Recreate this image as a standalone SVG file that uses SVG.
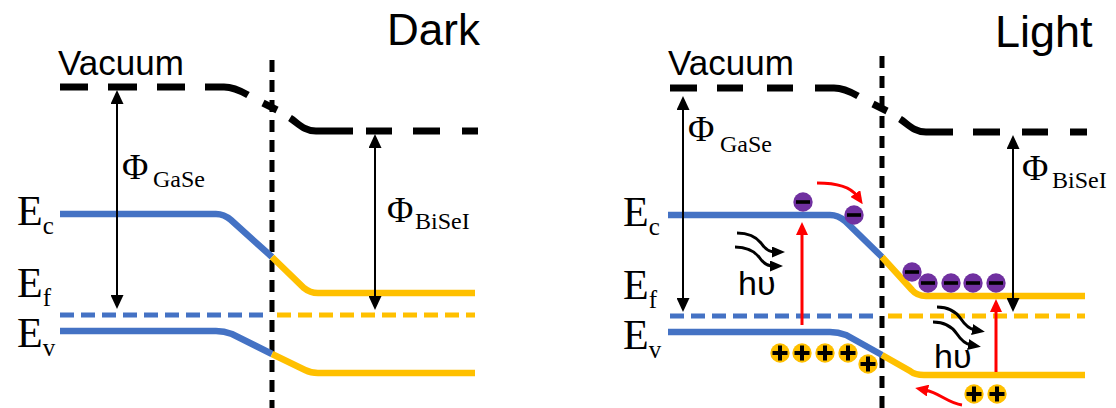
<svg xmlns="http://www.w3.org/2000/svg" width="1116" height="408" viewBox="0 0 1116 408">
<style>
.sans{font-family:"Liberation Sans",Arial,sans-serif;fill:#000}
.serif{font-family:"Liberation Serif","Times New Roman",serif;fill:#000}
.vac{fill:none;stroke:#000;stroke-width:7}
.div{fill:none;stroke:#000;stroke-width:5;stroke-dasharray:12 8}
.blue{fill:none;stroke:#4472C4;stroke-width:6.5}
.yel{fill:none;stroke:#FFC000;stroke-width:6.5}
.bdash{fill:none;stroke:#4472C4;stroke-width:5;stroke-dasharray:14 7}
.ydash{fill:none;stroke:#FFC000;stroke-width:5;stroke-dasharray:14 7}
.phi{fill:none;stroke:#000;stroke-width:2;marker-start:url(#ab);marker-end:url(#ab)}
.red{fill:none;stroke:#FF0000;stroke-width:3;marker-end:url(#ar)}
.wave{fill:none;stroke:#000;stroke-width:3;marker-end:url(#aw)}
.el{fill:#7030A0}
.ho{fill:#FFC000}
.sign{fill:#000}
</style>
<defs>
<marker id="ab" viewBox="0 0 14 13" refX="4" refY="6.5" markerWidth="14" markerHeight="13" markerUnits="userSpaceOnUse" orient="auto-start-reverse"><path d="M0,0 L14,6.5 L0,13 z" fill="#000"/></marker>
<marker id="ar" viewBox="0 0 13 12" refX="3" refY="6" markerWidth="13" markerHeight="12" markerUnits="userSpaceOnUse" orient="auto"><path d="M0,0 L13,6 L0,12 z" fill="#FF0000"/></marker>
<marker id="aw" viewBox="0 0 13 11" refX="3" refY="5.5" markerWidth="13" markerHeight="11" markerUnits="userSpaceOnUse" orient="auto"><path d="M0,0 L13,5.5 L0,11 z" fill="#000"/></marker>
<g id="electron"><circle r="9.7" class="el"/><rect x="-7" y="-1.8" width="14" height="3.6" class="sign"/></g>
<g id="hole"><circle r="9.7" class="ho"/><rect x="-7.5" y="-2" width="15" height="4" class="sign"/><rect x="-2" y="-7.5" width="4" height="15" class="sign"/></g>
</defs>
<rect width="1116" height="408" fill="#fff"/>

<!-- Left panel: Dark -->
<g id="dark-title"><text class="sans" x="387" y="45" font-size="44">Dark</text></g>
<g id="dark-vacuum">
<text class="sans" x="58" y="75" font-size="35">Vacuum</text>
<path class="vac" d="M60,87 H88 M108,87 H137 M157,87 H185 M205,87 H224 Q234,87 248,95 M263,103 L277,110 M290,118 C298,123 304,131 316,131 H353 M366,131 H392 M413,131 H440 M462,131 H478"/>
</g>
<g id="dark-divider"><line class="div" x1="272" y1="60" x2="272" y2="408"/></g>
<g id="dark-bands">
<path class="blue" d="M60,214 H216 Q224,214 231,220 L272,257"/>
<path class="yel" d="M272,257 L304,288 Q310,293 318,293 H475"/>
<path class="bdash" d="M60,315 H270"/>
<path class="ydash" d="M277,315 H475"/>
<path class="blue" d="M60,331 H216 Q224,331 232,334 L272,354"/>
<path class="yel" d="M272,354 L305,370 Q311,373 318,373 H475"/>
</g>
<g id="dark-labels">
<text class="serif" x="17" y="225" font-size="42">E<tspan font-size="25" dy="9">c</tspan></text>
<text class="serif" x="17" y="297" font-size="42">E<tspan font-size="25" dy="9">f</tspan></text>
<text class="serif" x="17" y="347" font-size="42">E<tspan font-size="25" dy="9">v</tspan></text>
<text class="serif" x="122" y="179" font-size="36">Φ<tspan x="153" dy="8" font-size="24">GaSe</tspan></text>
<text class="serif" x="387" y="222" font-size="36">Φ<tspan x="415" dy="7" font-size="24">BiSeI</tspan></text>
</g>

<!-- Right panel: Light -->
<g id="light-title"><text class="sans" x="995" y="47" font-size="45">Light</text></g>
<g id="light-vacuum">
<text class="sans" x="668" y="75" font-size="35">Vacuum</text>
<path class="vac" d="M670,88 H697 M717,88 H743 M767,88 H793 M815,88 H834 Q844,88 858,96 M873,104 L887,111 M900,119 C908,124 914,132 926,132 H953 M973,132 H1000 M1022,132 H1048 M1070,132 H1087"/>
</g>
<g id="light-divider"><line class="div" x1="882" y1="56" x2="882" y2="408"/></g>
<g id="light-bands">
<path class="blue" d="M668,215 H830 Q838,215 845,221 L882,257"/>
<path class="yel" d="M882,257 L912,290 Q917,296 926,296 H1085"/>
<path class="bdash" d="M670,316 H880"/>
<path class="ydash" d="M888,316 H1085"/>
<path class="blue" d="M668,332 H830 Q838,332 846,335 L882,355"/>
<path class="yel" d="M882,355 L910,371 Q915,375 924,375 H1085"/>
</g>
<g id="light-labels">
<text class="serif" x="623" y="226" font-size="42">E<tspan font-size="25" dy="9">c</tspan></text>
<text class="serif" x="623" y="299" font-size="42">E<tspan font-size="25" dy="9">f</tspan></text>
<text class="serif" x="623" y="349" font-size="42">E<tspan font-size="25" dy="9">v</tspan></text>
<text class="serif" x="688" y="141" font-size="36">Φ<tspan x="720" dy="11" font-size="24">GaSe</tspan></text>
<text class="serif" x="1022" y="180" font-size="36">Φ<tspan x="1052" dy="8" font-size="24">BiSeI</tspan></text>
<text class="sans" x="738" y="295" font-size="34">hυ</text>
<text class="sans" x="934" y="368" font-size="34">hυ</text>
</g>
<g id="carriers">
<use href="#electron" x="803" y="202"/>
<use href="#electron" x="854" y="215"/>
<use href="#electron" x="912" y="272"/>
<use href="#electron" x="928" y="283"/>
<use href="#electron" x="951" y="283"/>
<use href="#electron" x="973" y="283"/>
<use href="#electron" x="996" y="283"/>
<use href="#hole" x="780" y="353"/>
<use href="#hole" x="802" y="353"/>
<use href="#hole" x="825" y="353"/>
<use href="#hole" x="848" y="353"/>
<use href="#hole" x="868" y="364"/>
<use href="#hole" x="974" y="394"/>
<use href="#hole" x="997" y="394"/>
</g>

<g id="connectors">
<line class="phi" x1="117" y1="100" x2="117" y2="299"/>
<line class="phi" x1="375" y1="144" x2="375" y2="300"/>
<line class="phi" x1="683" y1="106" x2="683" y2="302"/>
<line class="phi" x1="1013" y1="145" x2="1013" y2="302"/>
<line class="red" x1="802" y1="325" x2="802" y2="232"/>
<line class="red" x1="996" y1="372" x2="996" y2="309"/>
<path class="red" d="M817,183 Q848,183 857,196"/>
<path class="red" d="M962,405 C948,403 940,393 925,390"/>
<path class="wave" d="M737,233 c14,0 20,5 24,10 c4,6 8,9 14,9"/>
<path class="wave" d="M735,247 c14,0 20,5 24,10 c4,6 8,9 14,9"/>
<path class="wave" d="M937,307 c14,0 20,6 24,12 c4,6 8,10 14,11"/>
<path class="wave" d="M933,322 c14,0 20,6 24,12 c4,6 8,10 14,11"/>
</g>
</svg>
